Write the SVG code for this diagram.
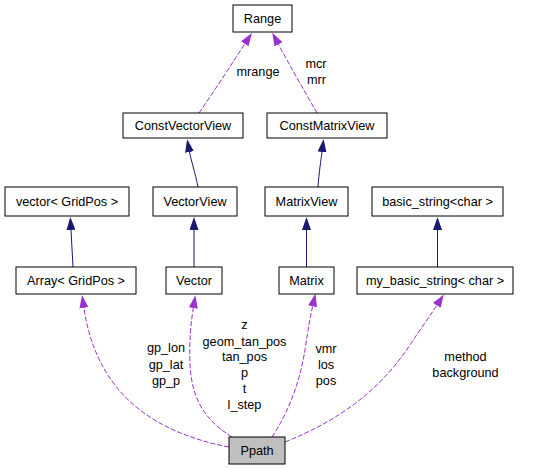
<svg xmlns="http://www.w3.org/2000/svg" width="539" height="469" viewBox="0 0 539 469">
<style>
.box{fill:#ffffff;stroke:#000000;stroke-width:1}
.cur{fill:#bfbfbf;stroke:#000000;stroke-width:1}
text{font-family:"Liberation Sans",Arial,sans-serif;font-size:12.7px;fill:#000000;text-anchor:middle}
.inh{fill:none;stroke:#191970;stroke-width:1}
.use{fill:none;stroke:#9a32cd;stroke-width:1;stroke-dasharray:5,2}
</style>
<defs>
<marker id="ab" viewBox="0 0 13 9" refX="0" refY="4.5" markerWidth="13" markerHeight="9" markerUnits="userSpaceOnUse" orient="auto">
<path d="M0,0 L13,4.5 L0,9 z" fill="#191970"/>
</marker>
<marker id="ap" viewBox="0 0 13 9" refX="0" refY="4.5" markerWidth="13" markerHeight="9" markerUnits="userSpaceOnUse" orient="auto">
<path d="M0,0 L13,4.5 L0,9 z" fill="#9a32cd"/>
</marker>
</defs>
<g id="edges">
<path class="inh" d="M198,187 C195,172 191,160 189.5,152" marker-end="url(#ab)"/>
<path class="inh" d="M318,187 C319,172 321,160 322,152" marker-end="url(#ab)"/>
<path class="inh" d="M73,267 L71,230" marker-end="url(#ab)"/>
<path class="inh" d="M194,267 L194,230" marker-end="url(#ab)"/>
<path class="inh" d="M306.5,267 L306.5,230" marker-end="url(#ab)"/>
<path class="inh" d="M437.5,267 L437.5,230" marker-end="url(#ab)"/>
<path class="use" d="M199,113 C215,90 233,62 244.8,43.8" marker-end="url(#ap)"/>
<path class="use" d="M317,113 C305,92 290,66 278.4,44.3" marker-end="url(#ap)"/>
<path class="use" d="M229,447 C140,430 95,382 83.9,307.9" marker-end="url(#ap)"/>
<path class="use" d="M232,437 C205,420 192,400 190,365 C189,342 191,322 193.3,308" marker-end="url(#ap)"/>
<path class="use" d="M272,437 C290,410 300,380 305,350 C308,330 310,318 312.6,306.3" marker-end="url(#ap)"/>
<path class="use" d="M285,442 C340,420 380,390 410,345 C421,328 430,316 436.8,305.4" marker-end="url(#ap)"/>
<text x="258" y="76">mrange</text>
<text x="316" y="68">mcr</text>
<text x="316.5" y="84">mrr</text>
<text x="166" y="352">gp_lon</text>
<text x="166" y="369">gp_lat</text>
<text x="166" y="385">gp_p</text>
<text x="244.5" y="329">z</text>
<text x="244.5" y="345.5">geom_tan_pos</text>
<text x="244.5" y="361">tan_pos</text>
<text x="244.5" y="377">p</text>
<text x="244.5" y="393">t</text>
<text x="244.5" y="409">l_step</text>
<text x="326" y="353">vmr</text>
<text x="326" y="369">los</text>
<text x="326" y="384.5">pos</text>
<text x="465.5" y="361">method</text>
<text x="465.5" y="377">background</text>
</g>
<g id="Range"><rect class="box" x="233" y="5" width="59" height="27"/><text x="262.5" y="22.5">Range</text></g>
<g id="ConstVectorView"><rect class="box" x="123" y="113" width="120" height="25"/><text x="183" y="129.5">ConstVectorView</text></g>
<g id="ConstMatrixView"><rect class="box" x="267" y="113" width="120" height="25"/><text x="327" y="129.5">ConstMatrixView</text></g>
<g id="vector_GridPos"><rect class="box" x="5" y="187" width="124" height="29"/><text x="67" y="205.5">vector&lt; GridPos &gt;</text></g>
<g id="VectorView"><rect class="box" x="153" y="187" width="84" height="29"/><text x="195" y="205.5">VectorView</text></g>
<g id="MatrixView"><rect class="box" x="265" y="187" width="83" height="29"/><text x="306.5" y="205.5">MatrixView</text></g>
<g id="basic_string"><rect class="box" x="372" y="187" width="131" height="29"/><text x="437.5" y="205.5">basic_string&lt;char &gt;</text></g>
<g id="Array_GridPos"><rect class="box" x="16" y="267" width="120" height="27"/><text x="76" y="284.5">Array&lt; GridPos &gt;</text></g>
<g id="Vector"><rect class="box" x="166" y="267" width="56" height="27"/><text x="194" y="284.5">Vector</text></g>
<g id="Matrix"><rect class="box" x="279" y="267" width="55" height="27"/><text x="306.5" y="284.5">Matrix</text></g>
<g id="my_basic_string"><rect class="box" x="357" y="267" width="156" height="27"/><text x="435" y="284.5">my_basic_string&lt; char &gt;</text></g>
<g id="Ppath"><rect class="cur" x="229" y="437" width="56" height="27"/><text x="257" y="454.5">Ppath</text></g>
</svg>
